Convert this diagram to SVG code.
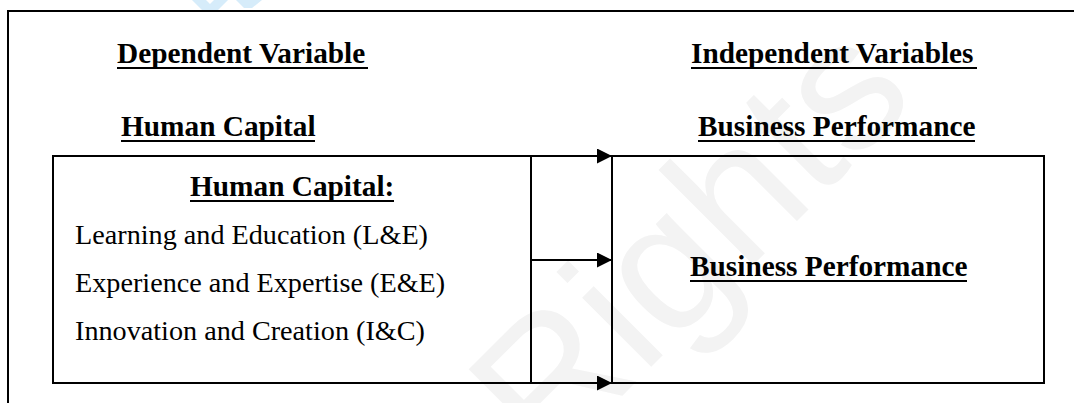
<svg xmlns="http://www.w3.org/2000/svg" width="1074" height="403" viewBox="0 0 1074 403">
  <defs>
    <style>
      .frame { fill: none; stroke: #000; stroke-width: 2; }
      .box { fill: none; stroke: #000; stroke-width: 2; }
      .conn { fill: none; stroke: #000; stroke-width: 2; }
      text { font-family: 'Liberation Serif', 'Times New Roman', Times, serif; fill: #000; }
      .h { font-weight: bold; font-size: 29.3px; }
      .b { font-size: 28.2px; }
      .ul { stroke: #000; stroke-width: 2.2; }
      .wm { font-family: 'Liberation Sans', Arial, sans-serif; font-size: 185px; fill: #f3f3f3; }
    </style>
    <marker id="arrow" viewBox="0 0 15 15" refX="15" refY="7.5" markerWidth="15" markerHeight="15" markerUnits="userSpaceOnUse" orient="auto">
      <path d="M0,0 L15,7.5 L0,15 Z" fill="#000"/>
    </marker>
  </defs>
  <rect width="1074" height="403" fill="#fff"/>

  <g id="watermark">
    <text class="wm" transform="translate(548,470) rotate(-45)">Rights</text>
    <path d="M192,0 L204,12 L216,12 L228,0 L214,0 L210,4 L206,0 Z M236,0 L244,8 L252,8 L262,0 Z" fill="#d6ecfa"/>
  </g>

  <path class="frame" d="M8,403 V11 H1074"/>

  <g id="heading-dependent">
    <text class="h" x="117" y="63">Dependent Variable</text>
    <line class="ul" x1="117" y1="68" x2="368" y2="68"/>
  </g>
  <g id="heading-independent">
    <text class="h" x="691" y="63">Independent Variables</text>
    <line class="ul" x1="691" y1="68" x2="977" y2="68"/>
  </g>
  <g id="heading-human-capital">
    <text class="h" x="121" y="136">Human Capital</text>
    <line class="ul" x1="121" y1="141" x2="315" y2="141"/>
  </g>
  <g id="heading-business-performance">
    <text class="h" x="698" y="136">Business Performance</text>
    <line class="ul" x1="698" y1="141" x2="975" y2="141"/>
  </g>

  <g id="node-human-capital">
    <rect class="box" x="53" y="156" width="478" height="227"/>
    <text class="h" x="190" y="196">Human Capital:</text>
    <line class="ul" x1="190" y1="201" x2="394" y2="201"/>
    <text class="b" x="75" y="244">Learning and Education (L&amp;E)</text>
    <text class="b" x="75" y="292">Experience and Expertise (E&amp;E)</text>
    <text class="b" x="75" y="340">Innovation and Creation (I&amp;C)</text>
  </g>

  <g id="node-business-performance">
    <rect class="box" x="612" y="156" width="432" height="227"/>
    <text class="h" x="690" y="276">Business Performance</text>
    <line class="ul" x1="690" y1="281" x2="967" y2="281"/>
  </g>

  <g id="connectors">
    <line class="conn" x1="531" y1="156" x2="612" y2="156" marker-end="url(#arrow)"/>
    <line class="conn" x1="531" y1="260" x2="612" y2="260" marker-end="url(#arrow)"/>
    <line class="conn" x1="531" y1="383" x2="612" y2="383" marker-end="url(#arrow)"/>
  </g>
</svg>
